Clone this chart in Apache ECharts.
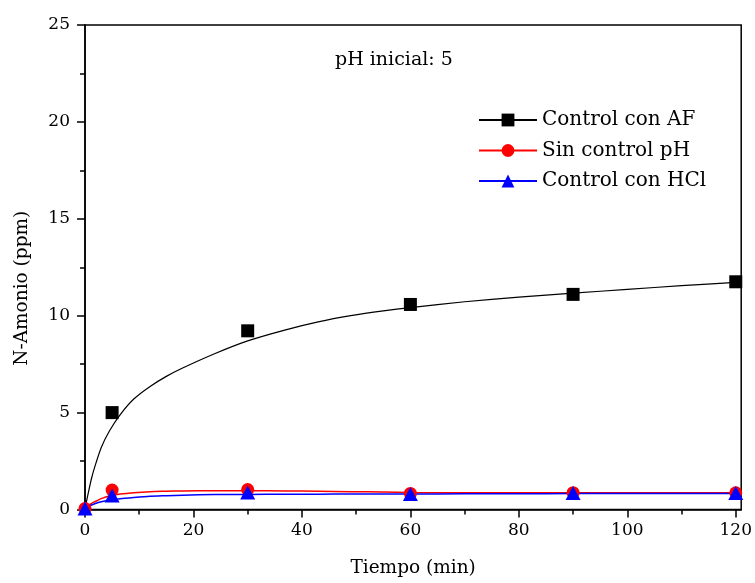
<!DOCTYPE html>
<html>
<head>
<meta charset="utf-8">
<script src="https://cdn.jsdelivr.net/npm/echarts@6/dist/echarts.min.js"></script>
<style>html,body{margin:0;padding:0;background:#fff;}#c{width:755px;height:583px;}</style>
</head>
<body>
<div id="c"></div>
<script>
// Measured points
const timeX = [0, 5, 30, 60, 90, 120];
const afPts = [null, 5.0, 9.22, 10.58, 11.1, 11.75];
const sinPts = [0.05, 1.0, 1.03, 0.83, 0.87, 0.86];
const hclPts = [0.05, 0.72, 0.88, 0.8, 0.85, 0.85];
// Fitted curves
const fitX   = [0, 0.3, 0.6, 1.2, 1.8, 3, 4.5, 6.5, 9, 12, 15, 18, 24, 30, 37, 43, 49, 55, 60, 70, 80, 90, 100, 110, 120];
const afFit  = [0, 0.45, 0.85, 1.6, 2.2, 3.2, 4.05, 4.9, 5.7, 6.35, 6.87, 7.3, 8.05, 8.7, 9.27, 9.68, 10.0, 10.25, 10.42, 10.72, 10.96, 11.16, 11.36, 11.55, 11.72];
const sinFit = [0.05, 0.12, 0.2, 0.32, 0.4, 0.56, 0.7, 0.8, 0.87, 0.92, 0.94, 0.96, 0.97, 0.97, 0.96, 0.94, 0.92, 0.9, 0.88, 0.86, 0.86, 0.86, 0.86, 0.86, 0.86];
const hclFit = [0.05, 0.1, 0.15, 0.23, 0.3, 0.4, 0.48, 0.56, 0.62, 0.68, 0.71, 0.74, 0.77, 0.78, 0.79, 0.79, 0.8, 0.8, 0.8, 0.81, 0.81, 0.82, 0.82, 0.83, 0.83];
const xTicks = [0, 20, 40, 60, 80, 100, 120];
const xMinorTicks = [10, 30, 50, 70, 90, 110];
const names = ['Control con AF', 'Sin control pH', 'Control con HCl'];
const colors = ['#000000', '#ff0000', '#0000ff'];
const symbols = ['rect', 'circle', 'triangle'];
const noteText = 'pH inicial: 5';

const FONT = 'DejaVu Serif';
const zip = (xs, ys) => xs.map((x, i) => [x, ys[i]]).filter(p => p[1] !== null);

const chart = echarts.init(document.getElementById('c'), null, {renderer: 'canvas'});
const fits = [afFit, sinFit, hclFit];
const pts = [afPts, sinPts, hclPts];
const series = [];
names.forEach((n, i) => {
  series.push({
    name: n, type: 'line', xAxisIndex: 0, yAxisIndex: 0,
    data: zip(fitX, fits[i]), smooth: 0.2, showSymbol: false, symbol: symbols[i],
    lineStyle: {color: colors[i], width: i === 0 ? 1.2 : 1.5},
    itemStyle: {color: colors[i]}, z: 2, animation: false
  });
});
names.forEach((n, i) => {
  series.push({
    name: n, type: 'scatter', xAxisIndex: 0, yAxisIndex: 0,
    data: zip(timeX, pts[i]), symbol: symbols[i],
    symbolSize: i === 2 ? [15, 14] : 13,
    itemStyle: {color: colors[i], opacity: 1}, clip: true, z: 3, animation: false
  });
});

chart.setOption({
  animation: false,
  backgroundColor: '#fff',
  grid: {left: 85, top: 25, right: 12, bottom: 73.5, show: true, borderColor: '#000', borderWidth: 1.5, backgroundColor: 'transparent'},
  title: {text: noteText, left: 335, top: 51, padding: 0, textStyle: {fontFamily: FONT, fontSize: 19, fontWeight: 'normal', color: '#000'}},
  legend: {
    data: names, orient: 'vertical', left: 478, top: 110, padding: 0, itemWidth: 58, itemHeight: 16, itemGap: 10.5,
    textStyle: {fontFamily: FONT, fontSize: 20, color: '#000'}
  },
  xAxis: [{
    type: 'value', min: 0, max: 121, interval: 20,
    name: 'Tiempo (min)', nameLocation: 'middle', nameGap: 49,
    nameTextStyle: {fontFamily: FONT, fontSize: 18.5, color: '#000'},
    axisLine: {show: true, lineStyle: {color: '#000', width: 1.5}},
    axisTick: {show: true, inside: false, length: 8, lineStyle: {width: 1.5, color: '#000'}, customValues: xTicks},
    axisLabel: {fontFamily: FONT, fontSize: 17, color: '#000', margin: 13, customValues: xTicks},
    splitLine: {show: false}
  }, {
    type: 'value', min: 0, max: 121, position: 'bottom', gridIndex: 0,
    axisLine: {show: false},
    axisTick: {show: true, inside: false, length: 5, lineStyle: {width: 1.5, color: '#000'}, customValues: xMinorTicks},
    axisLabel: {show: false},
    splitLine: {show: false}
  }],
  yAxis: {
    type: 'value', min: 0, max: 25, interval: 5,
    name: 'N-Amonio (ppm)', nameLocation: 'middle', nameGap: 53,
    nameTextStyle: {fontFamily: FONT, fontSize: 18.5, color: '#000', padding: [0, 42, 0, 0]},
    axisLine: {show: true, lineStyle: {color: '#000', width: 1.5}},
    axisTick: {show: true, inside: false, length: 8, lineStyle: {width: 1.5, color: '#000'}},
    minorTick: {show: true, splitNumber: 2, length: 5, lineStyle: {width: 1.5, color: '#000'}},
    axisLabel: {fontFamily: FONT, fontSize: 17, color: '#000', margin: 15},
    splitLine: {show: false}
  },
  series: series
});
</script>
</body>
</html>
